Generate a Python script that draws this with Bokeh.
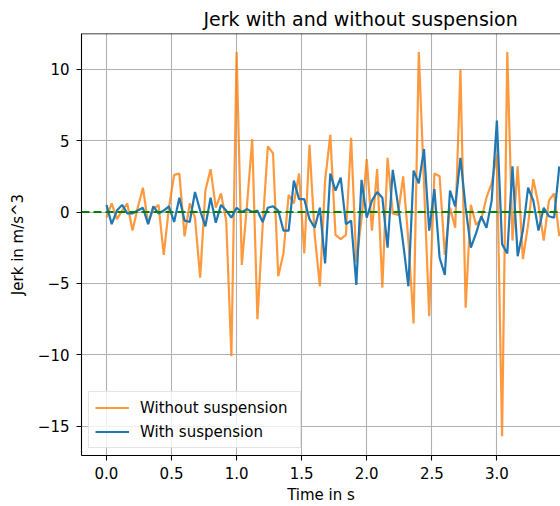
from bokeh.plotting import figure
from bokeh.models import Range1d, Span, Legend, LegendItem, FixedTicker
from bokeh.embed import file_html
from bokeh.resources import INLINE

time_s = [0.00, 0.04, 0.08, 0.12, 0.16, 0.20, 0.24, 0.28, 0.32, 0.36,
          0.40, 0.44, 0.48, 0.52, 0.56, 0.60, 0.64, 0.68, 0.72, 0.76,
          0.80, 0.84, 0.88, 0.92, 0.96, 1.00, 1.04, 1.08, 1.12, 1.16,
          1.20, 1.24, 1.28, 1.32, 1.36, 1.40, 1.44, 1.48, 1.52, 1.56,
          1.60, 1.64, 1.68, 1.72, 1.76, 1.80, 1.84, 1.88, 1.92, 1.96,
          2.00, 2.04, 2.08, 2.12, 2.16, 2.20, 2.24, 2.28, 2.32, 2.36,
          2.40, 2.44, 2.48, 2.52, 2.56, 2.60, 2.64, 2.68, 2.72, 2.76,
          2.80, 2.84, 2.88, 2.92, 2.96, 3.00, 3.04, 3.08, 3.12, 3.16,
          3.20, 3.24, 3.28, 3.32, 3.36, 3.40, 3.44, 3.48]

jerk_without = [-0.4, 0.6, -0.5, 0.1, 0.6, -1.3, 0.3, 1.7, -0.8, 0.2,
                0.5, -3.0, 0.3, 2.6, 2.7, -1.7, 0.6, -0.4, -4.6, 1.5,
                3.0, 0.3, 1.3, -0.6, -10.1, 11.2, -3.7, 0.5, 5.1, -7.5,
                -1.0, 4.6, 4.1, -4.5, -2.9, 1.2, 0.6, 2.7, -2.9, 4.7,
                -1.6, -5.2, 2.2, 5.4, -1.6, -1.9, -1.6, 5.2, -3.5, -0.5,
                3.7, -1.3, 3.0, -5.3, 3.8, -0.1, -0.2, 2.5, -2.0, -7.8,
                11.2, 2.0, -7.3, 2.7, 2.5, -3.0, 0.3, -1.1, 10.0, -6.7,
                0.5, -0.9, -0.5, 1.0, 2.0, 4.0, -15.7, 11.2, -2.0, 3.2,
                -3.3, -0.9, 2.3, 0.5, -2.0, 0.8, 1.3, -1.7]

jerk_with = [0.5, -0.85, 0.1, 0.5, -0.1, -0.1, 0.1, 0.3, -0.85, 0.4,
             -0.1, 0.1, 0.4, -0.7, 1.0, -0.6, -0.7, 1.4, 0.1, -1.0,
             1.0, -0.75, 0.5, 0.1, -0.4, 0.3, 0.0, 0.2, 0.0, 0.1,
             -0.7, 0.3, 0.4, 0.1, -1.3, -1.3, 2.2, 0.9, 0.9, -0.5,
             -1.1, 0.3, -3.6, 2.7, 1.5, 2.4, -0.85, -0.6, -5.1, 2.25,
             -0.4, 0.8, 1.4, 1.0, -2.5, 2.95, 0.5, -2.2, -5.2, 2.9,
             2.0, 4.4, -1.3, 1.6, -3.2, -4.4, 1.5, 0.4, 3.8, 0.3,
             -2.5, -1.5, -0.3, -1.1, 0.8, 6.4, -2.25, -2.9, 3.2, -3.1,
             -1.3, 1.7, 0.8, -1.3, 0.3, -0.3, -0.4, 3.2]

x_ticks = [0.0, 0.5, 1.0, 1.5, 2.0, 2.5, 3.0, 3.5]
x_tick_labels = ["0.0", "0.5", "1.0", "1.5", "2.0", "2.5", "3.0", "3.5"]
y_ticks = [-15, -10, -5, 0, 5, 10]
y_tick_labels = ["\u221215", "\u221210", "\u22125", "0", "5", "10"]

series_names = ["Without suspension", "With suspension"]
title_text = "Jerk with and without suspension"
x_label = "Time in s"
y_label = "Jerk in m/s^3"

FONT = "DejaVu Sans"
Y_START, Y_END = -17.05, 12.5

p = figure(width=560, height=506,
           x_range=Range1d(-0.192, 3.489), y_range=Range1d(Y_START, Y_END),
           output_backend="svg", toolbar_location=None,
           min_border_left=81, min_border_right=0,
           min_border_top=33, min_border_bottom=51)

p.title.text = title_text
p.title.align = "left"
p.title.offset = 122
p.title.text_font = FONT
p.title.text_font_size = "19px"
p.title.text_font_style = "normal"
p.title.text_color = "black"
p.title.standoff = 8

p.outline_line_color = None
p.background_fill_color = "white"
p.border_fill_color = "white"

for ax in (p.xaxis[0], p.yaxis[0]):
    ax.axis_line_color = "black"
    ax.axis_line_width = 1.1
    ax.major_tick_line_color = "black"
    ax.major_tick_line_width = 1.1
    ax.major_tick_out = 5
    ax.major_tick_in = 0
    ax.minor_tick_line_color = None
    ax.major_label_text_font = FONT
    ax.major_label_text_font_size = "15px"
    ax.major_label_text_color = "black"
    ax.axis_label_text_font = FONT
    ax.axis_label_text_font_size = "15px"
    ax.axis_label_text_font_style = "normal"
    ax.axis_label_text_color = "black"

p.xaxis[0].ticker = FixedTicker(ticks=x_ticks)
p.xaxis[0].major_label_overrides = dict(zip(x_ticks, x_tick_labels))
p.xaxis[0].major_label_standoff = 6
p.xaxis[0].axis_label = x_label
p.xaxis[0].axis_label_standoff = 4

p.yaxis[0].ticker = FixedTicker(ticks=y_ticks)
p.yaxis[0].major_label_overrides = dict(zip(y_ticks, y_tick_labels))
p.yaxis[0].major_label_standoff = 7
p.yaxis[0].axis_label = y_label
p.yaxis[0].axis_label_standoff = 8

p.xgrid.ticker = FixedTicker(ticks=x_ticks)
p.ygrid.ticker = FixedTicker(ticks=y_ticks)
for g in (p.xgrid[0], p.ygrid[0]):
    g.grid_line_color = "#b0b0b0"
    g.grid_line_width = 1.1

r_without = p.line(time_s, jerk_without, line_color="#ff7f0e", line_alpha=0.8, line_width=2.2)
r_with = p.line(time_s, jerk_with, line_color="#1f77b4", line_width=2.2)

p.add_layout(Span(location=0, dimension="width", line_color="#008000",
                  line_width=2.2, line_dash="8 4"))
p.add_layout(Span(location=Y_END, dimension="width", line_color="black",
                  line_width=1.5))

legend = Legend(items=[LegendItem(label=series_names[0], renderers=[r_without]),
                       LegendItem(label=series_names[1], renderers=[r_with])],
                location=(7, 7), margin=0, padding=6, spacing=5,
                glyph_width=34, glyph_height=19, label_height=19,
                label_width=154, label_standoff=11,
                label_text_font=FONT, label_text_font_size="15px",
                label_text_color="black",
                border_line_color="#cccccc", border_line_width=1,
                background_fill_color="white", background_fill_alpha=0.8)
p.add_layout(legend)

open("out.html", "w").write(file_html(p, INLINE))
